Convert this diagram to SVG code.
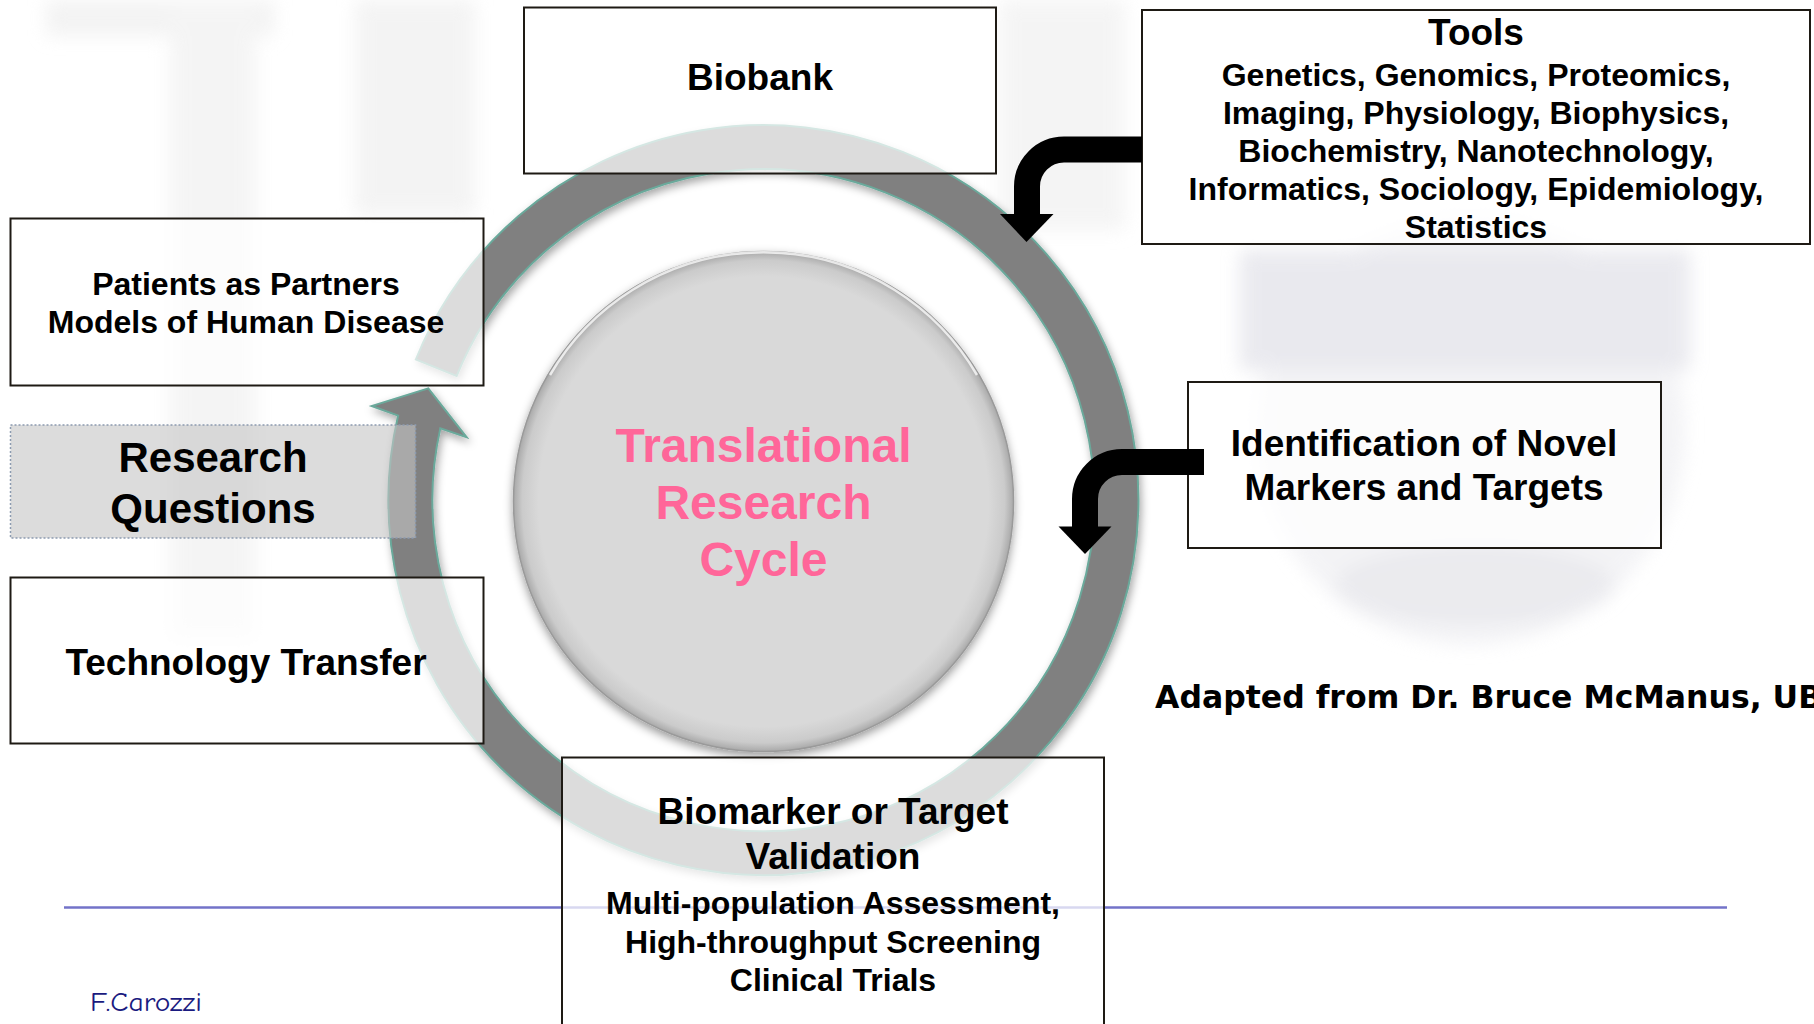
<svg xmlns="http://www.w3.org/2000/svg" width="1814" height="1024" viewBox="0 0 1814 1024">
  <defs>
    <style>
      .box { fill: #ffffff; fill-opacity: 0.72; stroke: #1e1a14; stroke-width: 2; }
      .t { font-family: "Liberation Sans", Arial, sans-serif; font-weight: bold; fill: #000; text-anchor: middle; }
      .t37 { font-size: 37px; }
      .t32 { font-size: 32px; }
      .t42 { font-size: 42px; }
      .center { font-family: "Liberation Sans", Arial, sans-serif; font-weight: bold; font-size: 48px; fill: #ff6699; text-anchor: middle; }
      .arrow { fill: none; stroke: #000; stroke-width: 26; }
    </style>
    <filter id="wm" x="-20%" y="-20%" width="140%" height="140%">
      <feGaussianBlur stdDeviation="9"/>
    </filter>
    <filter id="ringShadow" x="-10%" y="-10%" width="120%" height="120%">
      <feDropShadow dx="2" dy="4" stdDeviation="4" flood-color="#000" flood-opacity="0.35"/>
    </filter>
    <filter id="circShadow" x="-10%" y="-10%" width="120%" height="125%">
      <feDropShadow dx="0" dy="4" stdDeviation="5" flood-color="#000" flood-opacity="0.4"/>
    </filter>
    <radialGradient id="circFill" cx="0.5" cy="0.5" r="0.5">
      <stop offset="0" stop-color="#d9d9d9"/>
      <stop offset="0.9" stop-color="#d9d9d9"/>
      <stop offset="0.965" stop-color="#cbcbcb"/>
      <stop offset="1" stop-color="#a9a9a9"/>
    </radialGradient>
  </defs>

  <rect x="0" y="0" width="1814" height="1024" fill="#ffffff"/>

  <!-- faint background watermark -->
  <g id="watermark" filter="url(#wm)" opacity="0.6">
    <rect x="46" y="0" width="228" height="36" fill="#ebebeb"/>
    <rect x="170" y="0" width="86" height="640" fill="#eeeeee"/>
    <rect x="355" y="0" width="120" height="215" fill="#ececec"/>
    <rect x="1000" y="0" width="125" height="230" fill="#eeeeee"/>
    <ellipse cx="1470" cy="430" rx="215" ry="215" fill="#ececf0"/>
    <rect x="1240" y="250" width="450" height="120" fill="#dcdce4"/>
    <ellipse cx="1475" cy="585" rx="140" ry="40" fill="#dedee4"/>
  </g>

  <!-- horizontal blue rule -->
  <line id="rule" x1="64" y1="907.5" x2="1727" y2="907.5" stroke="#7373c9" stroke-width="2.5"/>

  <!-- cycle ring arrow -->
  <g id="cycle-ring" filter="url(#ringShadow)">
    <path d="M 415.8 359.5 A 375 375 0 1 1 398.1 415.6 L 371.7 406 L 428.3 388.3 L 466.7 437.3 L 440.3 428.4 A 331 331 0 1 0 456.6 376.0 Z" fill="#808080" stroke="#6aa99b" stroke-width="2" stroke-linejoin="miter"/>
  </g>

  <!-- central circle -->
  <g id="node-center">
    <circle cx="763.5" cy="501.5" r="250" fill="url(#circFill)" stroke="#9a9a9a" stroke-width="1.5" filter="url(#circShadow)"/>
    <path d="M 550 375 A 247 247 0 0 1 977 375" fill="none" stroke="#ffffff" stroke-width="2.5" opacity="0.75"/>
    <text class="center" x="763.5" y="462">Translational</text>
    <text class="center" x="763.5" y="519">Research</text>
    <text class="center" x="763.5" y="576">Cycle</text>
  </g>

  <g id="node-biobank">
    <rect class="box" x="524" y="7.5" width="472" height="166"/>
    <text class="t t37" x="760" y="90">Biobank</text>
  </g>

  <g id="node-tools">
    <rect class="box" x="1142" y="10" width="668" height="234"/>
    <text class="t t37" x="1476" y="45">Tools</text>
    <text class="t t32" x="1476" y="85.5">Genetics, Genomics, Proteomics,</text>
    <text class="t t32" x="1476" y="123.5">Imaging, Physiology, Biophysics,</text>
    <text class="t t32" x="1476" y="161.5">Biochemistry, Nanotechnology,</text>
    <text class="t t32" x="1476" y="199.5">Informatics, Sociology, Epidemiology,</text>
    <text class="t t32" x="1476" y="237.5">Statistics</text>
  </g>

  <g id="node-patients">
    <rect class="box" x="10.5" y="218.5" width="473" height="167"/>
    <text class="t t32" x="246" y="295">Patients as Partners</text>
    <text class="t t32" x="246" y="333">Models of Human Disease</text>
  </g>

  <g id="node-research-questions">
    <rect x="10.5" y="425" width="405" height="113" fill="#c4c4c4" fill-opacity="0.6" stroke="#8c9bb0" stroke-width="1.5" stroke-dasharray="2 2"/>
    <text class="t t42" x="213" y="472">Research</text>
    <text class="t t42" x="213" y="523">Questions</text>
  </g>

  <g id="node-technology-transfer">
    <rect class="box" x="10.5" y="577.5" width="473" height="166"/>
    <text class="t t37" x="246" y="675">Technology Transfer</text>
  </g>

  <g id="node-identification">
    <rect class="box" x="1188" y="382" width="473" height="166"/>
    <text class="t t37" x="1424" y="456">Identification of Novel</text>
    <text class="t t37" x="1424" y="500">Markers and Targets</text>
  </g>

  <g id="node-biomarker">
    <rect class="box" x="562" y="757.5" width="542" height="300"/>
    <text class="t t37" x="833" y="824">Biomarker or Target</text>
    <text class="t t37" x="833" y="869">Validation</text>
    <text class="t t32" x="833" y="914">Multi-population Assessment,</text>
    <text class="t t32" x="833" y="953">High-throughput Screening</text>
    <text class="t t32" x="833" y="991">Clinical Trials</text>
  </g>

  <!-- connectors: bent black arrows -->
  <g id="connectors">
    <path class="arrow" d="M 1142 149.5 H 1064 A 37 37 0 0 0 1027 186.5 V 215"/>
    <polygon points="1000,214 1053.5,214 1026.5,242" fill="#000"/>
    <path class="arrow" d="M 1204 462 H 1122 A 37 37 0 0 0 1085 499 V 527"/>
    <polygon points="1058.5,526.5 1111.5,526.5 1085,554" fill="#000"/>
  </g>

  <g id="credits">
    <text x="1155" y="708" font-family="'DejaVu Sans', Verdana, sans-serif" font-weight="bold" font-size="31.5" fill="#000">Adapted from Dr. Bruce McManus, UB</text>
    <text x="90" y="1011" font-family="'Comic Sans MS', 'Comic Neue', 'DejaVu Sans', sans-serif" font-size="27" fill="#1a1a80" textLength="112" lengthAdjust="spacingAndGlyphs">F.Carozzi</text>
  </g>
</svg>
